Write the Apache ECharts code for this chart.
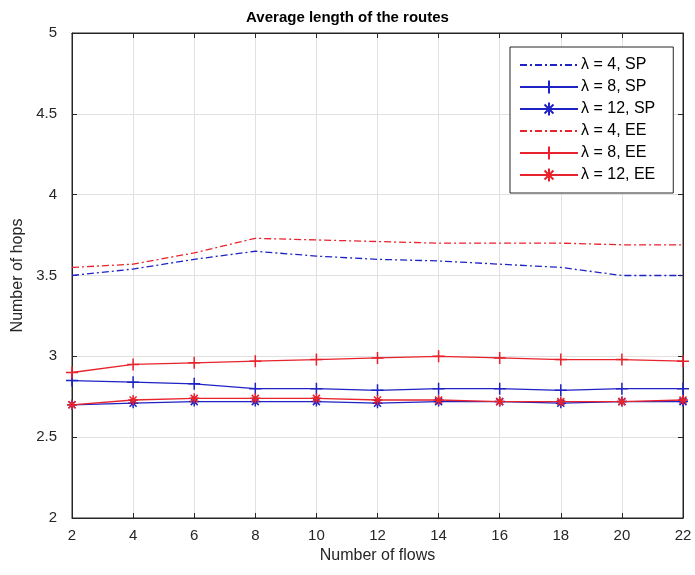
<!DOCTYPE html>
<html>
<head>
<meta charset="utf-8">
<script src="https://cdn.jsdelivr.net/npm/echarts@6/dist/echarts.min.js"></script>
<style>
  html, body { margin: 0; padding: 0; background: #fff; }
  #chart { width: 695px; height: 575px; }
</style>
</head>
<body>
<div id="chart"></div>
<script>
// number of flows
const flows = [2, 4, 6, 8, 10, 12, 14, 16, 18, 20, 22]

// average hops per configuration
const sp4 = [3.50, 3.54, 3.60, 3.65, 3.62, 3.60, 3.59, 3.57, 3.55, 3.50, 3.50]
const sp8 = [2.85, 2.84, 2.83, 2.80, 2.80, 2.79, 2.80, 2.80, 2.79, 2.80, 2.80]
const sp12 = [2.70, 2.71, 2.72, 2.72, 2.72, 2.71, 2.72, 2.72, 2.71, 2.72, 2.72]
const ee4 = [3.55, 3.57, 3.64, 3.73, 3.72, 3.71, 3.70, 3.70, 3.70, 3.69, 3.69]
const ee8 = [2.90, 2.95, 2.96, 2.97, 2.98, 2.99, 3.00, 2.99, 2.98, 2.98, 2.97]
const ee12 = [2.70, 2.73, 2.74, 2.74, 2.74, 2.73, 2.73, 2.72, 2.72, 2.72, 2.73]

const seriesNames = ['λ = 4, SP', 'λ = 8, SP', 'λ = 12, SP', 'λ = 4, EE', 'λ = 8, EE', 'λ = 12, EE']

const BLUE = '#1f22c4'
const RED = '#e8232b'
const FONT = 'Liberation Sans, Arial, sans-serif'

// marker shapes (stroked paths)
const PLUS = 'path://M5,0L5,10M0,5L10,5'
const STAR = 'path://M5,0L5,10M0,5L10,5M1.5,1.5L8.5,8.5M1.5,8.5L8.5,1.5'

const pair = arr => arr.map((v, i) => [flows[i], v])

function makeSeries(name, data, color, kind) {
  const s = {
    name: name,
    type: 'line',
    data: pair(data),
    color: color,
    lineStyle: { color: color, width: 1.3 },
    itemStyle: { color: color, borderColor: color, borderWidth: 1.5 },
    emphasis: { disabled: true },
    animation: false
  }
  if (kind === 'dash') {
    s.lineStyle.type = [7, 3, 2, 3]
    s.symbol = 'circle'
    s.showSymbol = false
  } else if (kind === 'plus') {
    s.symbol = PLUS
    s.symbolSize = 12
    s.showAllSymbol = true
  } else {
    s.symbol = STAR
    s.symbolSize = 10
    s.showAllSymbol = true
  }
  return s
}

// dash-dot entries get no marker in the legend
const legendData = seriesNames.map((n, i) => (i % 3 === 0)
  ? { name: n, itemStyle: { color: 'transparent', borderColor: 'transparent', borderWidth: 0 } }
  : { name: n })

const axisLabelStyle = { color: '#262626', fontSize: 15, fontFamily: FONT }

const chart = echarts.init(document.getElementById('chart'))
chart.setOption({
  backgroundColor: '#fff',
  title: {
    text: 'Average length of the routes',
    left: 'center',
    top: 5,
    textStyle: { fontFamily: FONT, fontSize: 15, fontWeight: 'bold', color: '#000' }
  },
  legend: {
    orient: 'vertical',
    left: 510,
    top: 47,
    backgroundColor: '#fff',
    borderColor: '#262626',
    borderWidth: 1,
    borderRadius: 0,
    padding: [10, 18, 10, 9],
    itemGap: 6,
    itemWidth: 58,
    itemHeight: 16,
    textStyle: { fontFamily: FONT, fontSize: 16, color: '#000', padding: [0, 0, 0, -2] },
    data: legendData
  },
  grid: {
    left: 72,
    right: 12,
    top: 33,
    bottom: 57,
    show: true,
    borderColor: '#262626',
    borderWidth: 1
  },
  xAxis: [{
    type: 'value',
    min: 2,
    max: 22,
    interval: 2,
    name: 'Number of flows',
    nameLocation: 'middle',
    nameGap: 30,
    nameTextStyle: { fontFamily: FONT, fontSize: 16, color: '#262626' },
    axisLine: { lineStyle: { color: '#262626' } },
    axisTick: { inside: true, length: 5, lineStyle: { color: '#262626' } },
    axisLabel: Object.assign({ margin: 10 }, axisLabelStyle),
    splitLine: { show: true, lineStyle: { color: '#e1e1e1' } }
  }, {
    type: 'value',
    position: 'top',
    min: 2,
    max: 22,
    interval: 2,
    axisLine: { lineStyle: { color: '#262626' } },
    axisTick: { inside: true, length: 5, lineStyle: { color: '#262626' } },
    axisLabel: { show: false },
    splitLine: { show: false }
  }],
  yAxis: [{
    type: 'value',
    min: 2,
    max: 5,
    interval: 0.5,
    name: 'Number of hops',
    nameLocation: 'middle',
    nameGap: 38,
    nameTextStyle: { fontFamily: FONT, fontSize: 16, color: '#262626' },
    axisLine: { show: true, lineStyle: { color: '#262626' } },
    axisTick: { show: true, inside: true, length: 5, lineStyle: { color: '#262626' } },
    axisLabel: Object.assign({ margin: 15 }, axisLabelStyle),
    splitLine: { show: true, lineStyle: { color: '#e1e1e1' } }
  }, {
    type: 'value',
    position: 'right',
    min: 2,
    max: 5,
    interval: 0.5,
    axisLine: { show: true, lineStyle: { color: '#262626' } },
    axisTick: { show: true, inside: true, length: 5, lineStyle: { color: '#262626' } },
    axisLabel: { show: false },
    splitLine: { show: false }
  }],
  series: [
    makeSeries(seriesNames[0], sp4, BLUE, 'dash'),
    makeSeries(seriesNames[1], sp8, BLUE, 'plus'),
    makeSeries(seriesNames[2], sp12, BLUE, 'star'),
    makeSeries(seriesNames[3], ee4, RED, 'dash'),
    makeSeries(seriesNames[4], ee8, RED, 'plus'),
    makeSeries(seriesNames[5], ee12, RED, 'star')
  ]
})
</script>
</body>
</html>
